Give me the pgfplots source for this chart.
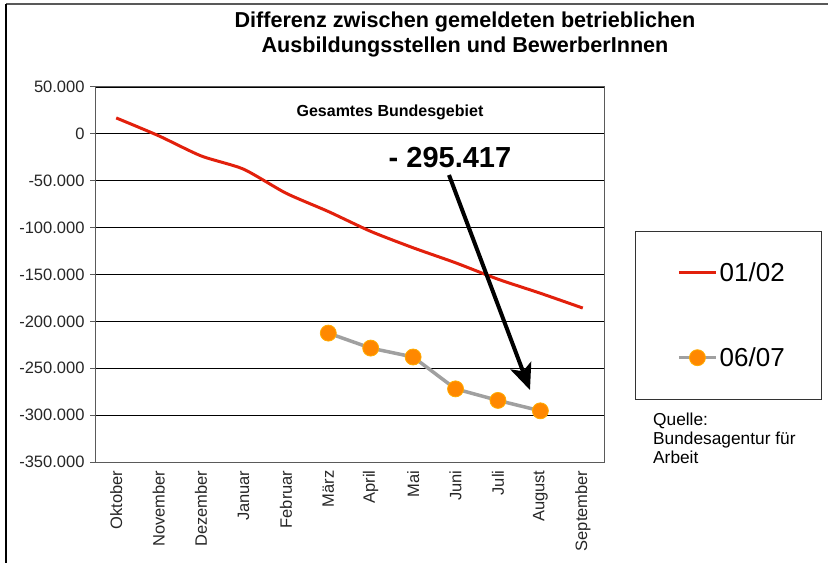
\documentclass[border=0pt]{standalone}
\usepackage{pgfplots}
\pgfplotsset{compat=1.18}
\usepackage{fontspec}
\setmainfont{Liberation Sans}
\usetikzlibrary{arrows.meta}
\definecolor{redline}{RGB}{226,32,12}
\definecolor{grayline}{RGB}{160,160,160}
\definecolor{orangemark}{RGB}{255,136,0}
\definecolor{axgray}{RGB}{90,90,90}
\begin{document}
\begin{tikzpicture}[x=1pt,y=1pt]
\useasboundingbox (0,0) rectangle (828,563);
% outer frame
\draw[gray!70!black, line width=1.2pt] (6,559) -- (828,559);
\draw[black, line width=1.5pt] (6,559) -- (6,0);
\begin{axis}[
  at={(95pt,101pt)}, anchor=south west,
  scale only axis, width=509pt, height=375pt,
  xmin=-0.5, xmax=11.5, ymin=-350000, ymax=50000,
  scaled y ticks=false,
  xtick={0,...,11},
  xticklabels={Oktober,November,Dezember,Januar,Februar,März,April,Mai,Juni,Juli,August,September},
  minor xtick={-0.5,0.5,...,11.5},
  ytick={-350000,-300000,-250000,-200000,-150000,-100000,-50000,0,50000},
  yticklabels={-350.000,-300.000,-250.000,-200.000,-150.000,-100.000,-50.000,0,50.000},
  tick pos=left, tick align=outside,
  major tick length=5pt, minor tick length=5pt,
  every tick/.style={axgray, line width=1pt},
  xtick style={draw=none},
  minor x tick style={axgray, line width=1pt},
  tick label style={font=\fontsize{16.5}{19}\selectfont, text=black!85},
  xticklabel style={rotate=90, anchor=east, xshift=0pt},
  yticklabel style={xshift=-2pt},
  axis line style={axgray, line width=1pt},
  ymajorgrids, major grid style={black, line width=0.9pt},
  clip=false,
  legend style={at={(1.1434,0.5387)}, anchor=north west, draw=none, fill=none,
    inner sep=0pt, row sep=61pt, font=\fontsize{26}{28}\selectfont,
    nodes={inner xsep=2pt}},
  legend cell align=left,
  legend image code/.code={\draw[mark repeat=2,mark phase=2,#1] plot coordinates {(0pt,0pt) (18.5pt,0pt) (37pt,0pt)};},
]
\addplot[redline, line width=3pt, smooth, tension=0.4] coordinates {
 (0,17000) (1,-2000) (2,-23500) (3,-37600) (4,-63200) (5,-82800)
 (6,-104000) (7,-121500) (8,-137500) (9,-155000) (10,-170000) (11,-185800)};
\addlegendentry{01/02}
\addplot[grayline, line width=3.5pt, mark=*, mark size=8pt,
  mark options={fill=orangemark, draw=orangemark!70!yellow, line width=0.8pt}] coordinates {
 (5,-212500) (6,-228500) (7,-238000) (8,-272000) (9,-284300) (10,-295417)};
\addlegendentry{06/07}
\end{axis}
% title
\node[align=center, font=\bfseries\fontsize{21.6}{25}\selectfont] at (465,528.5)
  {Differenz zwischen gemeldeten betrieblichen\\Ausbildungsstellen und BewerberInnen};
\node[font=\bfseries\fontsize{16}{18}\selectfont] at (390,451) {Gesamtes Bundesgebiet};
\node[font=\bfseries\fontsize{29}{32}\selectfont] at (450,405) {- 295.417};
\draw[line width=4pt, -{Stealth[length=26pt,width=22pt,inset=6pt]}] (449,388) -- (530,173);
% legend box
\draw[black!80, line width=1pt] (635,163) rectangle (821,331);
\node[anchor=north west, align=left, font=\fontsize{17.3}{19}\selectfont, inner sep=0pt] at (653,150)
  {Quelle:\\Bundesagentur für\\Arbeit};
\end{tikzpicture}
\end{document}
